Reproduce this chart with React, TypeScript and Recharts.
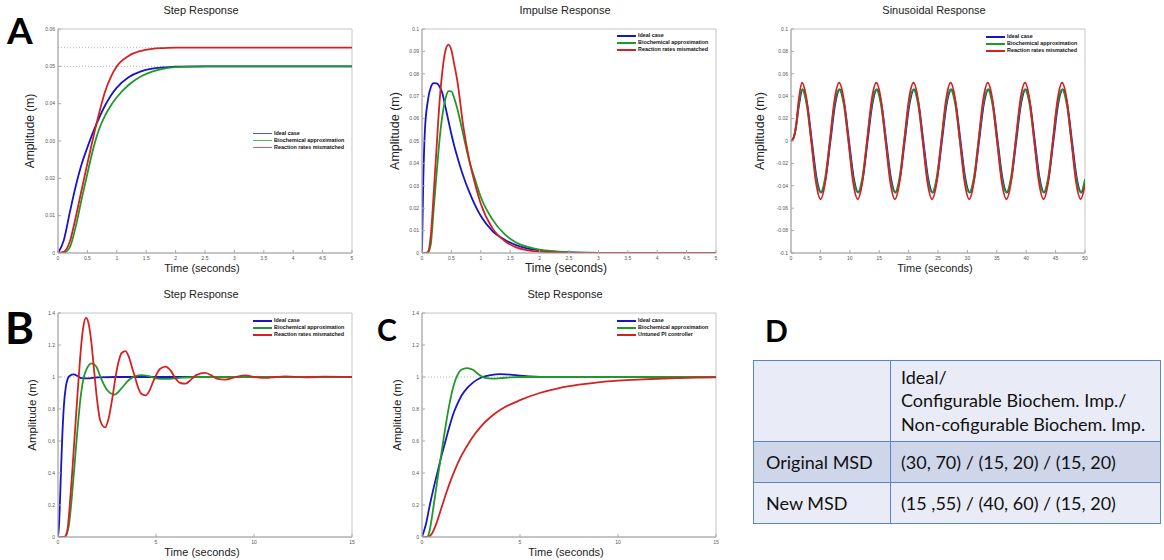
import React from "react";
import { LineChart, Line, XAxis, YAxis, ReferenceArea, ReferenceLine } from "recharts";

const BLUE = "#1616c4";
const GREEN = "#1f9a2a";
const RED = "#d42222";

const LEGEND_STEP = ["Ideal case", "Biochemical approximation", "Reaction rates mismatched"];
const LEGEND_PI = ["Ideal case", "Biochemical approximation", "Untuned PI controller"];

// A: step response
const stepATime = [0, 0.1, 0.2, 0.3, 0.4, 0.5, 0.6, 0.7, 0.8, 0.9, 1.0, 1.2, 1.4, 1.6, 1.8, 2.0, 2.5, 3, 4, 5];
const stepAIdeal = [0, 0.0035, 0.0108, 0.0178, 0.0237, 0.0283, 0.0325, 0.0362, 0.0395, 0.0422, 0.0443, 0.0471, 0.0486, 0.0494, 0.0497, 0.0499, 0.05, 0.05, 0.05, 0.05];
const stepABiochem = [0, 0.0001, 0.0015, 0.007, 0.0143, 0.0213, 0.028, 0.0332, 0.0368, 0.0395, 0.0417, 0.045, 0.0472, 0.0486, 0.0494, 0.0498, 0.05, 0.05, 0.05, 0.05];
const stepAMismatch = [0, 0.0003, 0.003, 0.0095, 0.0168, 0.024, 0.031, 0.0375, 0.0432, 0.0472, 0.05, 0.0528, 0.0541, 0.0547, 0.0549, 0.055, 0.055, 0.055, 0.055, 0.055];

// impulse response
const impTime = [0, 0.02, 0.05, 0.1, 0.15, 0.2, 0.25, 0.3, 0.35, 0.4, 0.45, 0.5, 0.55, 0.6, 0.7, 0.8, 0.9, 1.0, 1.2, 1.4, 1.6, 1.8, 2.0, 2.5, 3, 4, 5];
const impIdeal = [0, 0.03, 0.055, 0.068, 0.074, 0.0758, 0.0757, 0.0742, 0.071, 0.065, 0.059, 0.053, 0.0477, 0.043, 0.0345, 0.0275, 0.0215, 0.0165, 0.0098, 0.006, 0.0035, 0.002, 0.0012, 0.0003, 0.0001, 0, 0];
const impBiochem = [0, 0, 0, 0.0002, 0.004, 0.02, 0.036, 0.051, 0.062, 0.069, 0.0723, 0.0722, 0.069, 0.0645, 0.053, 0.0415, 0.033, 0.025, 0.0149, 0.0085, 0.0047, 0.0027, 0.0015, 0.0004, 0.0001, 0, 0];
const impMismatch = [0, 0, 0, 0.0005, 0.008, 0.027, 0.048, 0.068, 0.082, 0.0905, 0.093, 0.0905, 0.084, 0.077, 0.057, 0.042, 0.031, 0.022, 0.011, 0.0055, 0.0025, 0.0012, 0.0006, 0.0001, 0, 0, 0];

// sinusoidal response
const sinTime = [0, 0.45, 0.85, 1.3, 1.87, 2.66, 3.45, 4.24, 5.03, 5.82, 6.61, 7.4, 8.19, 8.98, 9.77, 10.56, 11.35, 12.14, 12.93, 13.72, 14.51, 15.3, 16.09, 16.88, 17.67, 18.46, 19.25, 20.04, 20.83, 21.62, 22.41, 23.2, 23.99, 24.78, 25.57, 26.36, 27.15, 27.94, 28.73, 29.52, 30.31, 31.1, 31.89, 32.68, 33.47, 34.26, 35.05, 35.84, 36.63, 37.42, 38.21, 39.0, 39.79, 40.58, 41.37, 42.16, 42.95, 43.74, 44.53, 45.32, 46.11, 46.9, 47.69, 48.48, 49.27, 50];
const sinTimeIdeal = [0, 0.45, 0.85, 1.3, 1.97, 2.76, 3.55, 4.34, 5.13, 5.92, 6.71, 7.5, 8.29, 9.08, 9.87, 10.66, 11.45, 12.24, 13.03, 13.82, 14.61, 15.4, 16.19, 16.98, 17.77, 18.56, 19.35, 20.14, 20.93, 21.72, 22.51, 23.3, 24.09, 24.88, 25.67, 26.46, 27.25, 28.04, 28.83, 29.62, 30.41, 31.2, 31.99, 32.78, 33.57, 34.36, 35.15, 35.94, 36.73, 37.52, 38.31, 39.1, 39.89, 40.68, 41.47, 42.26, 43.05, 43.84, 44.63, 45.42, 46.21, 47.0, 47.79, 48.58, 49.37, 50];
const sinIdeal = [0, 0.003, 0.012, 0.03,
  0.046, 0.0325, 0, -0.0325, -0.046, -0.0325, 0, 0.0325,
  0.046, 0.0325, 0, -0.0325, -0.046, -0.0325, 0, 0.0325,
  0.046, 0.0325, 0, -0.0325, -0.046, -0.0325, 0, 0.0325,
  0.046, 0.0325, 0, -0.0325, -0.046, -0.0325, 0, 0.0325,
  0.046, 0.0325, 0, -0.0325, -0.046, -0.0325, 0, 0.0325,
  0.046, 0.0325, 0, -0.0325, -0.046, -0.0325, 0, 0.0325,
  0.046, 0.0325, 0, -0.0325, -0.046, -0.0325, 0, 0.0325,
  0.046, 0.0325, 0, -0.0325, -0.046, -0.037];
const sinBiochem = [0, 0.003, 0.013, 0.032,
  0.046, 0.0325, 0, -0.0325, -0.046, -0.0325, 0, 0.0325,
  0.046, 0.0325, 0, -0.0325, -0.046, -0.0325, 0, 0.0325,
  0.046, 0.0325, 0, -0.0325, -0.046, -0.0325, 0, 0.0325,
  0.046, 0.0325, 0, -0.0325, -0.046, -0.0325, 0, 0.0325,
  0.046, 0.0325, 0, -0.0325, -0.046, -0.0325, 0, 0.0325,
  0.046, 0.0325, 0, -0.0325, -0.046, -0.0325, 0, 0.0325,
  0.046, 0.0325, 0, -0.0325, -0.046, -0.0325, 0, 0.0325,
  0.046, 0.0325, 0, -0.0325, -0.046, -0.034];
const sinMismatch = [0, 0.003, 0.014, 0.036,
  0.052, 0.0368, 0, -0.0368, -0.052, -0.0368, 0, 0.0368,
  0.052, 0.0368, 0, -0.0368, -0.052, -0.0368, 0, 0.0368,
  0.052, 0.0368, 0, -0.0368, -0.052, -0.0368, 0, 0.0368,
  0.052, 0.0368, 0, -0.0368, -0.052, -0.0368, 0, 0.0368,
  0.052, 0.0368, 0, -0.0368, -0.052, -0.0368, 0, 0.0368,
  0.052, 0.0368, 0, -0.0368, -0.052, -0.0368, 0, 0.0368,
  0.052, 0.0368, 0, -0.0368, -0.052, -0.0368, 0, 0.0368,
  0.052, 0.0368, 0, -0.0368, -0.052, -0.039];

// B: step response, new MSD
const stepBIdealTime = [0, 0.05, 0.1, 0.15, 0.2, 0.3, 0.4, 0.5, 0.6, 0.8, 1.0, 1.2, 1.5, 2.0, 3, 15];
const stepBIdeal = [0, 0.07, 0.22, 0.4, 0.57, 0.82, 0.94, 0.99, 1.008, 1.016, 1.006, 0.993, 0.991, 0.998, 1.0, 1.0];
const stepBBiochemTime = [0, 0.35, 0.45, 0.55, 0.7, 0.85, 1.0, 1.15, 1.3, 1.48, 1.73, 1.95, 2.2, 2.5, 2.87, 3.25, 3.6, 3.95, 4.25, 4.65, 5.1, 5.5, 6.2, 7, 15];
const stepBBiochem = [0, 0, 0.02, 0.07, 0.24, 0.46, 0.68, 0.87, 0.99, 1.055, 1.085, 1.065, 0.99, 0.92, 0.89, 0.93, 0.98, 1.005, 1.012, 1.005, 0.99, 0.988, 0.995, 1.0, 1.0];
const stepBMismatchTime = [0, 0.3, 0.4, 0.5, 0.6, 0.7, 0.8, 0.9, 1.0, 1.1, 1.2, 1.3, 1.43, 1.55, 1.7, 1.85, 2.0, 2.15, 2.4, 2.6, 2.8, 2.95, 3.1, 3.25, 3.44, 3.6, 3.8, 3.95, 4.1, 4.25, 4.46, 4.65, 4.85, 5.0, 5.2, 5.48, 5.75, 6.0, 6.2, 6.5, 6.8, 7.05, 7.5, 7.9, 8.1, 8.55, 9.0, 9.55, 10.05, 10.6, 11.1, 11.6, 12.6, 13.6, 15];
const stepBMismatch = [0, 0, 0.01, 0.06, 0.2, 0.36, 0.54, 0.72, 0.9, 1.07, 1.22, 1.32, 1.37, 1.34, 1.22, 1.03, 0.85, 0.73, 0.685, 0.75, 0.89, 1.01, 1.1, 1.15, 1.162, 1.13, 1.05, 0.99, 0.93, 0.895, 0.885, 0.91, 0.97, 1.01, 1.05, 1.065, 1.04, 0.99, 0.965, 0.958, 0.985, 1.012, 1.026, 1.005, 0.99, 0.984, 0.997, 1.01, 1.0, 0.994, 1.0, 1.004, 0.998, 1.002, 1.0];

// C: step response, untuned PI
const stepCIdealTime = [0, 0.2, 0.4, 0.6, 0.8, 1.0, 1.2, 1.4, 1.6, 1.8, 2.0, 2.3, 2.6, 3.0, 3.5, 4.0, 4.5, 5.0, 5.5, 6.5, 15];
const stepCIdeal = [0, 0.08, 0.2, 0.31, 0.41, 0.51, 0.6, 0.69, 0.77, 0.83, 0.88, 0.93, 0.965, 0.995, 1.012, 1.018, 1.015, 1.008, 1.004, 1.0, 1.0];
const stepCBiochemTime = [0, 0.25, 0.35, 0.45, 0.6, 0.8, 1.0, 1.2, 1.4, 1.6, 1.8, 2.0, 2.3, 2.6, 2.9, 3.2, 3.6, 4.0, 4.5, 5.0, 15];
const stepCBiochem = [0, 0, 0.02, 0.08, 0.2, 0.37, 0.53, 0.69, 0.83, 0.94, 1.01, 1.045, 1.056, 1.045, 1.015, 0.995, 0.99, 0.993, 0.998, 1.0, 1.0];
const stepCPITime = [0, 0.3, 0.5, 0.75, 1.0, 1.25, 1.5, 1.75, 2.0, 2.5, 3.0, 3.5, 4.0, 5.0, 6.0, 7.0, 8.0, 9.0, 10.0, 11.0, 12.0, 13.0, 14.0, 15];
const stepCPI = [0, 0, 0.02, 0.09, 0.185, 0.28, 0.365, 0.44, 0.505, 0.61, 0.69, 0.75, 0.795, 0.855, 0.9, 0.931, 0.952, 0.967, 0.977, 0.984, 0.989, 0.993, 0.996, 0.998];

// D: table
const tableHeader = ["Ideal/", "Configurable Biochem. Imp./", "Non-cofigurable Biochem. Imp."];
const tableRows = [
  ["Original MSD", "(30, 70) / (15, 20) / (15, 20)"],
  ["New MSD", "(15 ,55) / (40, 60) / (15, 20)"],
];

const xTicksStep5 = [0, 0.5, 1, 1.5, 2, 2.5, 3, 3.5, 4, 4.5, 5];
const yTicksA = [0, 0.01, 0.02, 0.03, 0.04, 0.05, 0.06];
const yTicksImp = [0, 0.01, 0.02, 0.03, 0.04, 0.05, 0.06, 0.07, 0.08, 0.09, 0.1];
const xTicksSin = [0, 5, 10, 15, 20, 25, 30, 35, 40, 45, 50];
const yTicksSin = [-0.1, -0.08, -0.06, -0.04, -0.02, 0, 0.02, 0.04, 0.06, 0.08, 0.1];
const xTicks15 = [0, 5, 10, 15];
const yTicks14 = [0, 0.2, 0.4, 0.6, 0.8, 1, 1.2, 1.4];

const pts = (t: number[], v: number[]) => t.map((x, i) => ({ t: x, v: v[i] }));

const ARIAL = "'Liberation Sans', Arial, Helvetica, sans-serif";

type Series = { name: string; color: string; data: { t: number; v: number }[] };

function Panel(props: {
  left: number;
  top: number;
  title: string;
  xLabelSize: number;
  yLabelSize: number;
  yLabelX: number;
  xDomain: [number, number];
  yDomain: [number, number];
  xTicks: number[];
  yTicks: number[];
  series: Series[];
  legendTop: number;
  thinLegend?: boolean;
  guides?: { x1: number; x2: number; y: number }[];
}) {
  const { left, top } = props;
  return (
    <>
      <div style={{ position: "absolute", left: left + 183, top: top - 9, transform: "translate(-50%,-50%)", fontFamily: ARIAL, fontSize: 11, whiteSpace: "nowrap", color: "#222" }}>
        {props.title}
      </div>
      <div style={{ position: "absolute", left: left + props.yLabelX, top: top + 112, transform: "translate(-50%,-50%) rotate(-90deg)", fontFamily: ARIAL, fontSize: props.yLabelSize, whiteSpace: "nowrap", color: "#222" }}>
        Amplitude (m)
      </div>
      <div style={{ position: "absolute", left: left + 184, top: top + 249, transform: "translate(-50%,-50%)", fontFamily: ARIAL, fontSize: props.xLabelSize, whiteSpace: "nowrap", color: "#222" }}>
        Time (seconds)
      </div>
      <div style={{ position: "absolute", left, top }}>
        <LineChart width={344} height={254} margin={{ top: 10, right: 10, bottom: 0, left: 0 }}>
          <XAxis
            type="number"
            dataKey="t"
            domain={props.xDomain}
            ticks={props.xTicks}
            allowDataOverflow
            height={20}
            tickSize={-3}
            tickMargin={6}
            axisLine={{ stroke: "#a8a8a8" }}
            tickLine={{ stroke: "#a8a8a8" }}
            tick={{ fontSize: 5, fill: "#555", fontFamily: ARIAL }}
            interval={0}
          />
          <YAxis
            type="number"
            dataKey="v"
            domain={props.yDomain}
            ticks={props.yTicks}
            allowDataOverflow
            width={40}
            tickSize={-3}
            tickMargin={6}
            axisLine={{ stroke: "#a8a8a8" }}
            tickLine={{ stroke: "#a8a8a8" }}
            tick={{ fontSize: 5, fill: "#555", fontFamily: ARIAL }}
            interval={0}
          />
          <ReferenceArea x1={props.xDomain[0]} x2={props.xDomain[1]} y1={props.yDomain[0]} y2={props.yDomain[1]} fill="none" stroke="#c4c4c4" strokeWidth={1} />
          {(props.guides || []).map((g, i) => (
            <ReferenceLine key={i} segment={[{ x: g.x1, y: g.y }, { x: g.x2, y: g.y }]} stroke="#a4a4a4" strokeDasharray="1 2" strokeWidth={0.8} />
          ))}
          {props.series.map((s) => (
            <Line
              key={s.name}
              data={s.data}
              dataKey="v"
              name={s.name}
              type="monotone"
              stroke={s.color}
              strokeWidth={1.8}
              dot={false}
              activeDot={false}
              isAnimationActive={false}
            />
          ))}
        </LineChart>
      </div>
      <div style={{ position: "absolute", left: left + 235, top: top + props.legendTop, fontFamily: ARIAL, fontSize: 5.4, fontWeight: 700, color: "#111" }}>
        {props.series.map((s) => (
          <div key={s.name} style={{ display: "flex", alignItems: "center", height: 7, whiteSpace: "nowrap" }}>
            <span style={{ display: "inline-block", width: 19, height: props.thinLegend ? 1 : 2, background: s.color, marginRight: 2, opacity: props.thinLegend ? 0.75 : 1 }} />
            <span style={{ lineHeight: "7px" }}>{s.name}</span>
          </div>
        ))}
      </div>
    </>
  );
}

function bigLetter(ch: string, left: number, top: number, size: number) {
  return (
    <div style={{ position: "absolute", left, top, fontFamily: "Lato, 'Open Sans', sans-serif", fontWeight: 700, fontSize: size, lineHeight: 1, color: "#000" }}>
      {ch}
    </div>
  );
}

export default function App() {
  const seriesA: Series[] = [
    { name: LEGEND_STEP[0], color: BLUE, data: pts(stepATime, stepAIdeal) },
    { name: LEGEND_STEP[1], color: GREEN, data: pts(stepATime, stepABiochem) },
    { name: LEGEND_STEP[2], color: RED, data: pts(stepATime, stepAMismatch) },
  ];
  const seriesImp: Series[] = [
    { name: LEGEND_STEP[0], color: BLUE, data: pts(impTime, impIdeal) },
    { name: LEGEND_STEP[1], color: GREEN, data: pts(impTime, impBiochem) },
    { name: LEGEND_STEP[2], color: RED, data: pts(impTime, impMismatch) },
  ];
  const seriesSin: Series[] = [
    { name: LEGEND_STEP[0], color: BLUE, data: pts(sinTimeIdeal, sinIdeal) },
    { name: LEGEND_STEP[1], color: GREEN, data: pts(sinTime, sinBiochem) },
    { name: LEGEND_STEP[2], color: RED, data: pts(sinTime, sinMismatch) },
  ];
  const seriesB: Series[] = [
    { name: LEGEND_STEP[0], color: BLUE, data: pts(stepBIdealTime, stepBIdeal) },
    { name: LEGEND_STEP[1], color: GREEN, data: pts(stepBBiochemTime, stepBBiochem) },
    { name: LEGEND_STEP[2], color: RED, data: pts(stepBMismatchTime, stepBMismatch) },
  ];
  const seriesC: Series[] = [
    { name: LEGEND_PI[0], color: BLUE, data: pts(stepCIdealTime, stepCIdeal) },
    { name: LEGEND_PI[1], color: GREEN, data: pts(stepCBiochemTime, stepCBiochem) },
    { name: LEGEND_PI[2], color: RED, data: pts(stepCPITime, stepCPI) },
  ];

  const cellBorder = "1.5px solid #5b86c6";
  const tableFont = "Lato, 'Open Sans', sans-serif";

  return (
    <div style={{ position: "absolute", left: 0, top: 0, width: 1164, height: 560, background: "#fff", overflow: "hidden" }}>
      <Panel left={18} top={19} title="Step Response" xLabelSize={11} yLabelSize={12} yLabelX={12}
        xDomain={[0, 5]} yDomain={[0, 0.06]} xTicks={xTicksStep5} yTicks={yTicksA}
        series={seriesA} legendTop={111} thinLegend
        guides={[{ x1: 0, x2: 2, y: 0.055 }, { x1: 0, x2: 2.4, y: 0.05 }]} />
      <Panel left={382} top={19} title="Impulse Response" xLabelSize={12} yLabelSize={12.5} yLabelX={13}
        xDomain={[0, 5]} yDomain={[0, 0.1]} xTicks={xTicksStep5} yTicks={yTicksImp}
        series={seriesImp} legendTop={13} />
      <Panel left={751} top={19} title="Sinusoidal Response" xLabelSize={11} yLabelSize={12.5} yLabelX={9}
        xDomain={[0, 50]} yDomain={[-0.1, 0.1]} xTicks={xTicksSin} yTicks={yTicksSin}
        series={seriesSin} legendTop={14} />
      <Panel left={18} top={303} title="Step Response" xLabelSize={11} yLabelSize={11.5} yLabelX={14}
        xDomain={[0, 15]} yDomain={[0, 1.4]} xTicks={xTicks15} yTicks={yTicks14}
        series={seriesB} legendTop={14} guides={[{ x1: 0, x2: 15, y: 1 }]} />
      <Panel left={382} top={303} title="Step Response" xLabelSize={11} yLabelSize={11.5} yLabelX={15}
        xDomain={[0, 15]} yDomain={[0, 1.4]} xTicks={xTicks15} yTicks={yTicks14}
        series={seriesC} legendTop={14} guides={[{ x1: 0, x2: 15, y: 1 }]} />

      {bigLetter("A", 7, 11, 37)}
      {bigLetter("B", 5, 305, 44)}
      {bigLetter("C", 377, 314, 30)}
      {bigLetter("D", 765, 315, 30)}

      <table style={{ position: "absolute", left: 753, top: 360, width: 408, height: 163, borderCollapse: "collapse", fontFamily: tableFont, fontSize: 18, color: "#111" }}>
        <tbody>
          <tr style={{ height: 81, background: "#e9ecf6" }}>
            <td style={{ border: cellBorder, width: 136, padding: 0 }} />
            <td style={{ border: cellBorder, padding: "0 0 0 10px", lineHeight: "23.3px", verticalAlign: "middle" }}>
              {tableHeader.map((h) => (
                <div key={h}>{h}</div>
              ))}
            </td>
          </tr>
          {tableRows.map((r, i) => (
            <tr key={r[0]} style={{ height: 41, background: i === 0 ? "#cfd6ea" : "#e9ecf6" }}>
              <td style={{ border: cellBorder, padding: "0 0 0 12px" }}>{r[0]}</td>
              <td style={{ border: cellBorder, padding: "0 0 0 10px" }}>{r[1]}</td>
            </tr>
          ))}
        </tbody>
      </table>
    </div>
  );
}
